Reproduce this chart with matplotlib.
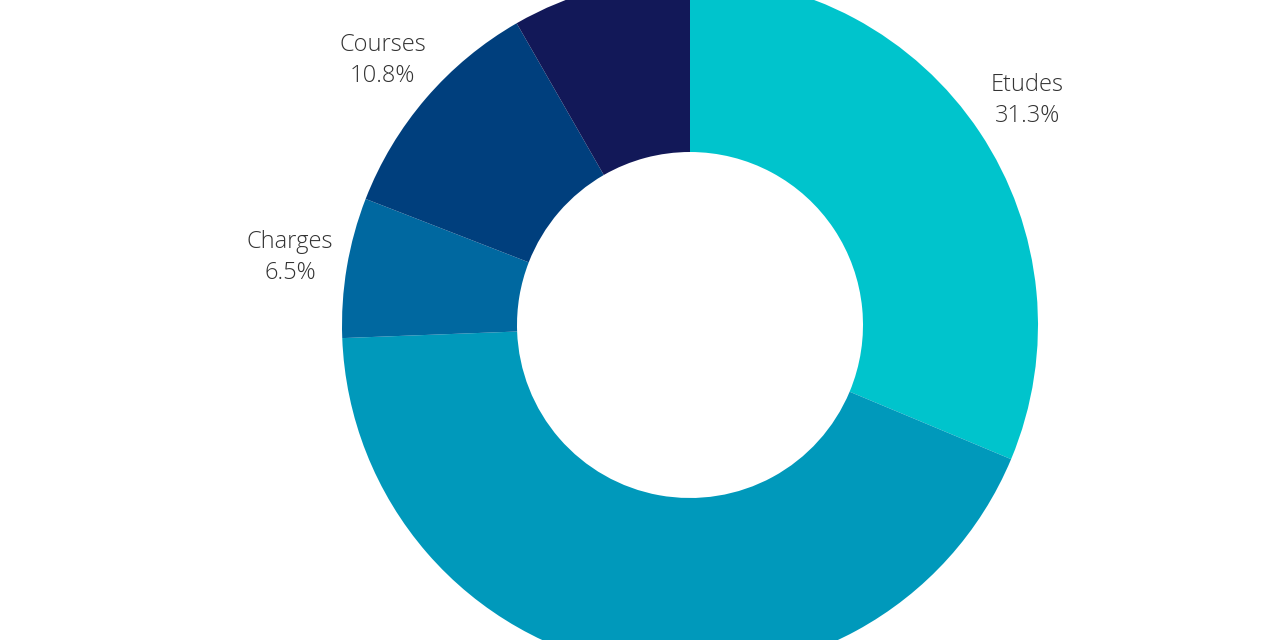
import matplotlib
matplotlib.use("Agg")
import matplotlib.pyplot as plt

labels = ["Etudes", "", "Charges", "Courses", ""]
values = [31.3, 43.1, 6.5, 10.8, 8.3]
colors = ["#00C4CC", "#0099BB", "#0068A0", "#003F7D", "#121858"]

fig = plt.figure(figsize=(12.8, 6.4), dpi=100)
ax = fig.add_axes([0, 0, 1, 1])
ax.set_xlim(0, 1280)
ax.set_ylim(0, 640)
ax.set_aspect("equal")
ax.axis("off")

R = 348
wedges, _ = ax.pie(values, colors=colors, startangle=90, counterclock=False,
                   center=(690, 315), radius=R, wedgeprops=dict(width=R - 173),
                   frame=True)
ax.set_xlim(0, 1280)
ax.set_ylim(0, 640)
ax.axis("off")

import numpy as np
cum = 0
for lab, v in zip(labels, values):
    mid = cum + v / 2
    cum += v
    if not lab:
        continue
    ang = np.deg2rad(90 - mid * 3.6)
    x = 690 + 1.165 * R * np.cos(ang)
    y = 315 + 1.165 * R * np.sin(ang)
    ax.text(x, y, f"{lab}\n{v}%", ha="center", va="center", fontsize=17,
            family=["Open Sans", "DejaVu Sans"], fontweight="light",
            color="#333333", linespacing=1.4)

fig.savefig("out.png", dpi=100)
